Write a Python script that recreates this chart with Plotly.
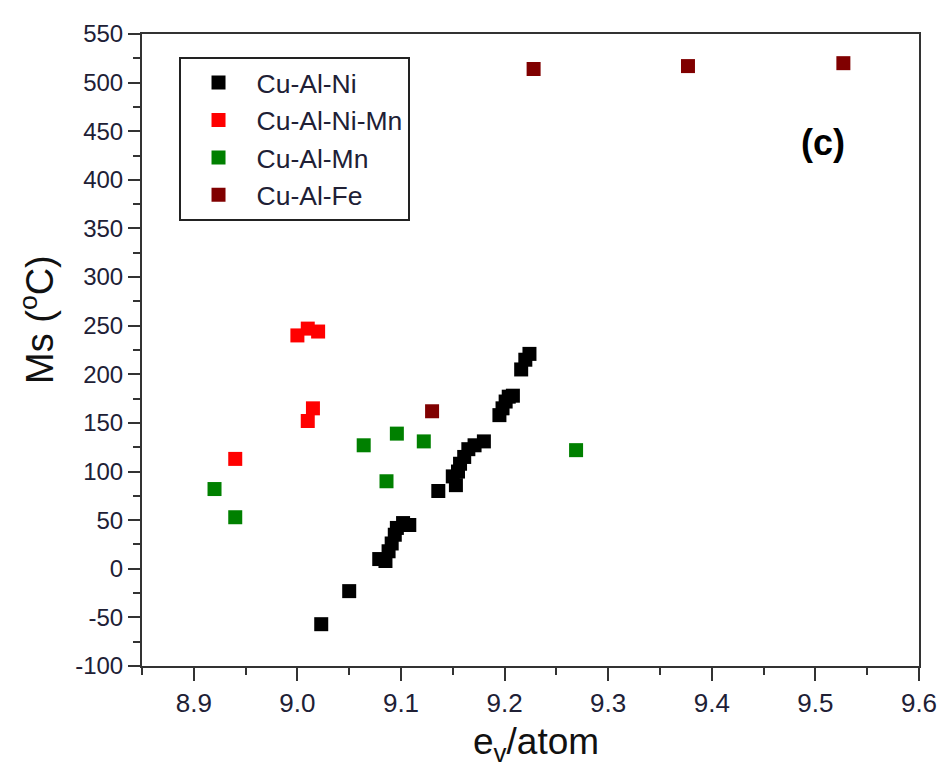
import plotly.graph_objects as go

# Cu-Al-Ni
ni_x = [9.023, 9.050, 9.079, 9.085, 9.088, 9.091, 9.094, 9.096, 9.102, 9.108,
        9.136, 9.150, 9.153, 9.155, 9.157, 9.161, 9.165, 9.171, 9.180,
        9.195, 9.198, 9.201, 9.204, 9.208, 9.216, 9.220, 9.224]
ni_y = [-57, -23, 10, 8, 18, 26, 35, 42, 47, 45,
        80, 95, 86, 100, 108, 115, 123, 127, 131,
        158, 165, 172, 177, 178, 205, 215, 221]
# Cu-Al-Ni-Mn
nimn_x = [9.000, 9.010, 9.020, 9.015, 9.010, 8.940]
nimn_y = [240, 247, 244, 165, 152, 113]
# Cu-Al-Mn
mn_x = [8.920, 8.940, 9.064, 9.096, 9.086, 9.122, 9.269]
mn_y = [82, 53, 127, 139, 90, 131, 122]
# Cu-Al-Fe
fe_x = [9.130, 9.228, 9.377, 9.527]
fe_y = [162, 514, 517, 520]

x_ticks = [8.9, 9.0, 9.1, 9.2, 9.3, 9.4, 9.5, 9.6]
x_labels = ["8.9", "9.0", "9.1", "9.2", "9.3", "9.4", "9.5", "9.6"]
y_ticks = [-100, -50, 0, 50, 100, 150, 200, 250, 300, 350, 400, 450, 500, 550]
y_labels = ["-100", "-50", "0", "50", "100", "150", "200", "250", "300",
            "350", "400", "450", "500", "550"]

series = [
    ("Cu-Al-Ni", ni_x, ni_y, "#000000"),
    ("Cu-Al-Ni-Mn", nimn_x, nimn_y, "#FF0000"),
    ("Cu-Al-Mn", mn_x, mn_y, "#008000"),
    ("Cu-Al-Fe", fe_x, fe_y, "#800000"),
]

fig = go.Figure()
for name, xs, ys, col in series:
    fig.add_trace(go.Scatter(
        x=xs, y=ys, mode="markers", name=name,
        marker=dict(symbol="square", size=14, color=col, line=dict(width=0)),
    ))

axis_common = dict(
    showline=True, linecolor="#333333", linewidth=2, mirror=True,
    ticks="outside", tickwidth=2, tickcolor="#333333",
    showgrid=False, zeroline=False,
)

fig.update_xaxes(
    range=[8.85, 9.6], tickmode="array", tickvals=x_ticks, ticktext=x_labels,
    ticklen=13,
    minor=dict(ticks="outside", ticklen=7, dtick=0.05, tick0=8.85, tickcolor="#333333", tickwidth=2),
    tickfont=dict(family="Liberation Sans, Arial", size=26, color="#202035"),
    **axis_common,
)
fig.update_yaxes(
    range=[-100, 550], tickmode="array", tickvals=y_ticks, ticktext=y_labels,
    ticklen=12,
    minor=dict(ticks="outside", ticklen=7, dtick=25, tickcolor="#333333", tickwidth=2),
    tickfont=dict(family="Liberation Sans, Arial", size=24, color="#202035"),
    **axis_common,
)

# axis titles
fig.add_annotation(
    x=0.507, y=-0.124, xref="paper", yref="paper", text="e<sub>v</sub>/atom",
    showarrow=False, xanchor="center", yanchor="middle",
    font=dict(family="Liberation Sans, Arial", size=37, color="#111111"),
)
fig.add_annotation(
    x=-0.136, y=0.548, xref="paper", yref="paper", text="Ms (<sup>o</sup>C)",
    showarrow=False, xanchor="center", yanchor="middle", textangle=-90,
    font=dict(family="Liberation Sans, Arial", size=38, color="#111111"),
)

fig.add_annotation(
    x=9.507, y=438, xref="x", yref="y", text="<b>(c)</b>", showarrow=False,
    font=dict(family="Liberation Sans, Arial", size=36, color="#000000"),
)

fig.update_layout(
    width=941, height=767,
    margin=dict(l=134, r=20, t=20, b=109),
    paper_bgcolor="white", plot_bgcolor="white",
    legend=dict(
        x=0.047, y=0.964, xanchor="left", yanchor="top",
        bordercolor="#222222", borderwidth=2, bgcolor="white",
        font=dict(family="Liberation Sans, Arial", size=26.5, color="#202035"),
        itemwidth=66, tracegroupgap=0,
    ),
    showlegend=True,
)

fig.write_html("out.html")
